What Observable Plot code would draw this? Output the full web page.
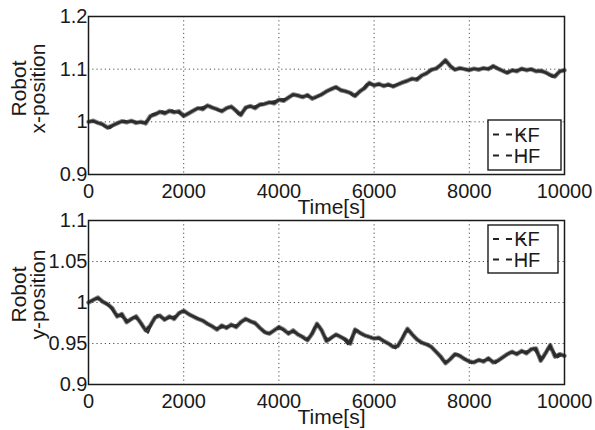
<!DOCTYPE html>
<html><head><meta charset="utf-8">
<script src="https://cdn.jsdelivr.net/npm/d3@7"></script>
<script src="https://cdn.jsdelivr.net/npm/@observablehq/plot@0.6"></script>
<style>
body{margin:0;background:#fff;width:595px;height:430px;overflow:hidden;font-family:"Liberation Sans",Arial,Helvetica,sans-serif}
#chart svg{display:block;overflow:visible}
</style></head><body><div id="chart"></div>
<script>
const xTicks = [0, 2000, 4000, 6000, 8000, 10000];
const yTicksTop = [0.9, 1, 1.1, 1.2];
const yTicksBottom = [0.9, 0.95, 1, 1.05, 1.1];
const seriesNames = ["KF", "HF"];
const timeKF = d3.range(0, 10001, 100);
const timeHF = d3.range(50, 10000, 100);

const xposKF = [1.000,1.002,0.998,0.995,0.989,0.993,0.997,1.001,0.999,1.002,
0.998,1.000,0.997,1.011,1.014,1.019,1.016,1.021,1.018,1.020,
1.011,1.016,1.021,1.026,1.024,1.031,1.027,1.024,1.020,1.026,
1.029,1.021,1.013,1.027,1.030,1.026,1.033,1.034,1.037,1.035,
1.042,1.040,1.046,1.052,1.050,1.047,1.051,1.044,1.048,1.052,
1.058,1.062,1.066,1.060,1.058,1.055,1.049,1.058,1.064,1.074,
1.069,1.072,1.068,1.071,1.067,1.071,1.075,1.078,1.082,1.080,
1.088,1.092,1.099,1.101,1.108,1.117,1.106,1.099,1.102,1.100,
1.098,1.101,1.099,1.102,1.100,1.106,1.101,1.097,1.093,1.098,
1.096,1.101,1.098,1.100,1.096,1.097,1.094,1.089,1.086,1.096,
1.098];
const xposHF = [1.001,0.999,0.997,0.991,0.988,0.995,0.999,1.002,1.000,1.001,
0.999,0.998,1.003,1.015,1.017,1.020,1.018,1.022,1.019,1.014,
1.013,1.019,1.024,1.027,1.029,1.030,1.025,1.021,1.023,1.028,
1.026,1.014,1.020,1.029,1.028,1.031,1.032,1.036,1.038,1.040,
1.043,1.044,1.049,1.051,1.048,1.049,1.047,1.045,1.050,1.055,
1.060,1.065,1.063,1.059,1.057,1.050,1.054,1.061,1.072,1.071,
1.070,1.070,1.069,1.068,1.070,1.073,1.076,1.080,1.081,1.085,
1.090,1.095,1.100,1.104,1.113,1.112,1.101,1.100,1.101,1.099,
1.100,1.100,1.101,1.101,1.103,1.104,1.099,1.094,1.096,1.097,
1.099,1.099,1.099,1.098,1.096,1.095,1.091,1.085,1.092,1.097];

const yposKF = [1.000,1.003,1.006,1.001,0.998,0.993,0.983,0.986,0.976,0.980,
0.983,0.975,0.966,0.972,0.982,0.984,0.979,0.983,0.980,0.987,
0.990,0.986,0.983,0.980,0.978,0.974,0.971,0.967,0.972,0.969,
0.973,0.970,0.976,0.980,0.977,0.975,0.969,0.964,0.962,0.966,
0.970,0.967,0.962,0.966,0.961,0.958,0.954,0.962,0.974,0.966,
0.953,0.957,0.961,0.958,0.955,0.950,0.967,0.963,0.960,0.958,
0.956,0.957,0.953,0.950,0.946,0.947,0.957,0.968,0.961,0.955,
0.951,0.949,0.946,0.940,0.934,0.926,0.931,0.937,0.935,0.931,
0.928,0.927,0.930,0.928,0.932,0.927,0.929,0.933,0.937,0.940,
0.937,0.941,0.938,0.943,0.944,0.929,0.938,0.948,0.934,0.937,
0.935];
const yposHF = [1.002,1.005,1.003,0.999,0.995,0.987,0.984,0.981,0.977,0.982,
0.979,0.970,0.963,0.977,0.985,0.981,0.980,0.982,0.984,0.989,
0.988,0.984,0.982,0.979,0.976,0.972,0.969,0.969,0.970,0.971,
0.972,0.973,0.978,0.979,0.976,0.972,0.966,0.962,0.964,0.968,
0.968,0.964,0.964,0.963,0.960,0.955,0.958,0.970,0.971,0.959,
0.954,0.959,0.960,0.956,0.949,0.960,0.966,0.961,0.959,0.957,
0.956,0.955,0.951,0.948,0.944,0.952,0.964,0.965,0.958,0.953,
0.950,0.948,0.943,0.937,0.929,0.928,0.934,0.937,0.933,0.930,
0.926,0.929,0.929,0.930,0.930,0.926,0.931,0.935,0.939,0.938,
0.939,0.940,0.941,0.944,0.936,0.932,0.944,0.942,0.933,0.936];

const FONT = '"Liberation Sans", Arial, Helvetica, sans-serif';

function panel(o) {
  const kf = timeKF.map((t, i) => ({t, v: o.kf[i], s: seriesNames[0]}));
  const hf = timeHF.map((t, i) => ({t, v: o.hf[i], s: seriesNames[1]}));
  const fmt = d => String(+d.toFixed(2));
  const plot = Plot.plot({
    width: 595, height: o.height,
    marginLeft: 88, marginRight: 31, marginTop: o.marginTop, marginBottom: o.marginBottom,
    style: {fontFamily: FONT, fontSize: "20px", color: "#1a1a1a", background: "transparent", overflow: "visible"},
    x: {domain: [0, 10000]},
    y: {domain: o.yDomain},
    marks: [
      Plot.gridX(xTicks, {stroke: "#333", strokeOpacity: 0.85, strokeDasharray: "1.2,3"}),
      Plot.gridY(o.yTicks, {stroke: "#333", strokeOpacity: 0.85, strokeDasharray: "1.2,3"}),
      Plot.line(kf, {x: "t", y: "v", stroke: "#333", strokeOpacity: 0.6, strokeWidth: 4.5}),
      Plot.line(kf, {x: "t", y: "v", stroke: "#262626", strokeWidth: 2.4}),
      Plot.line(hf, {x: "t", y: "v", stroke: "#2e2e2e", strokeWidth: 2}),
      Plot.frame({stroke: "#1a1a1a", strokeWidth: 1.5}),
      Plot.axisX({ticks: xTicks, tickSize: 0, tickPadding: 9, label: null, tickFormat: d => String(d), fontSize: 20}),
      Plot.axisY({ticks: o.yTicks, tickSize: 0, tickPadding: 1, label: null, tickFormat: fmt, fontSize: 20}),
      Plot.text(["Time[s]"], {frameAnchor: "bottom", lineAnchor: "top", dx: 5, dy: o.timeDy, text: d => d, fontSize: 21}),
      Plot.text([o.yLabel], {frameAnchor: "left", textAnchor: "middle", rotate: -90, lineAnchor: "middle", lineHeight: 0.88, dx: -59, dy: o.labelDy, text: d => d, fontSize: 21})
    ]
  });
  // legend
  const xr = plot.scale("x").range, yr = plot.scale("y").range;
  const right = Math.max(...xr), top = Math.min(...yr), bottom = Math.max(...yr);
  const L = o.legend;
  const bw = L.w, bh = L.h;
  const bx = right - L.inset - bw;
  const by = L.atBottom ? bottom - L.inset2 - bh : top + L.inset2;
  const g = d3.select(plot).append("g").attr("font-family", FONT).attr("font-size", 20);
  g.append("rect").attr("x", bx).attr("y", by).attr("width", bw).attr("height", bh)
    .attr("fill", "#fff").attr("stroke", "#1a1a1a").attr("stroke-width", 1.4);
  seriesNames.forEach((name, i) => {
    const cy = by + L.first + i * L.sp;
    g.append("line").attr("x1", bx + 5).attr("x2", bx + 37).attr("y1", cy).attr("y2", cy)
      .attr("stroke", "#222").attr("stroke-width", 2.2).attr("stroke-dasharray", "6,7");
    g.append("text").attr("x", bx + 39).attr("y", cy).attr("dy", "0.36em").attr("fill", "#1a1a1a").text(name);
  });
  return plot;
}

const chart = document.getElementById("chart");
chart.appendChild(panel({
  kf: xposKF, hf: xposHF, yDomain: [0.9, 1.2], yTicks: yTicksTop, yLabel: "Robot\nx-position",
  height: 215, marginTop: 16, marginBottom: 41, timeDy: 25, labelDy: -7,
  legend: {w: 73, h: 50, inset: 3, inset2: 4, atBottom: true, first: 14.5, sp: 21}
}));
chart.appendChild(panel({
  kf: yposKF, hf: yposHF, yDomain: [0.9, 1.1], yTicks: yTicksBottom, yLabel: "Robot\ny-position",
  height: 215, marginTop: 5, marginBottom: 46, timeDy: 25, labelDy: -8,
  legend: {w: 70, h: 48, inset: 6, inset2: 5, atBottom: false, first: 14, sp: 20.5}
}));
</script></body></html>
